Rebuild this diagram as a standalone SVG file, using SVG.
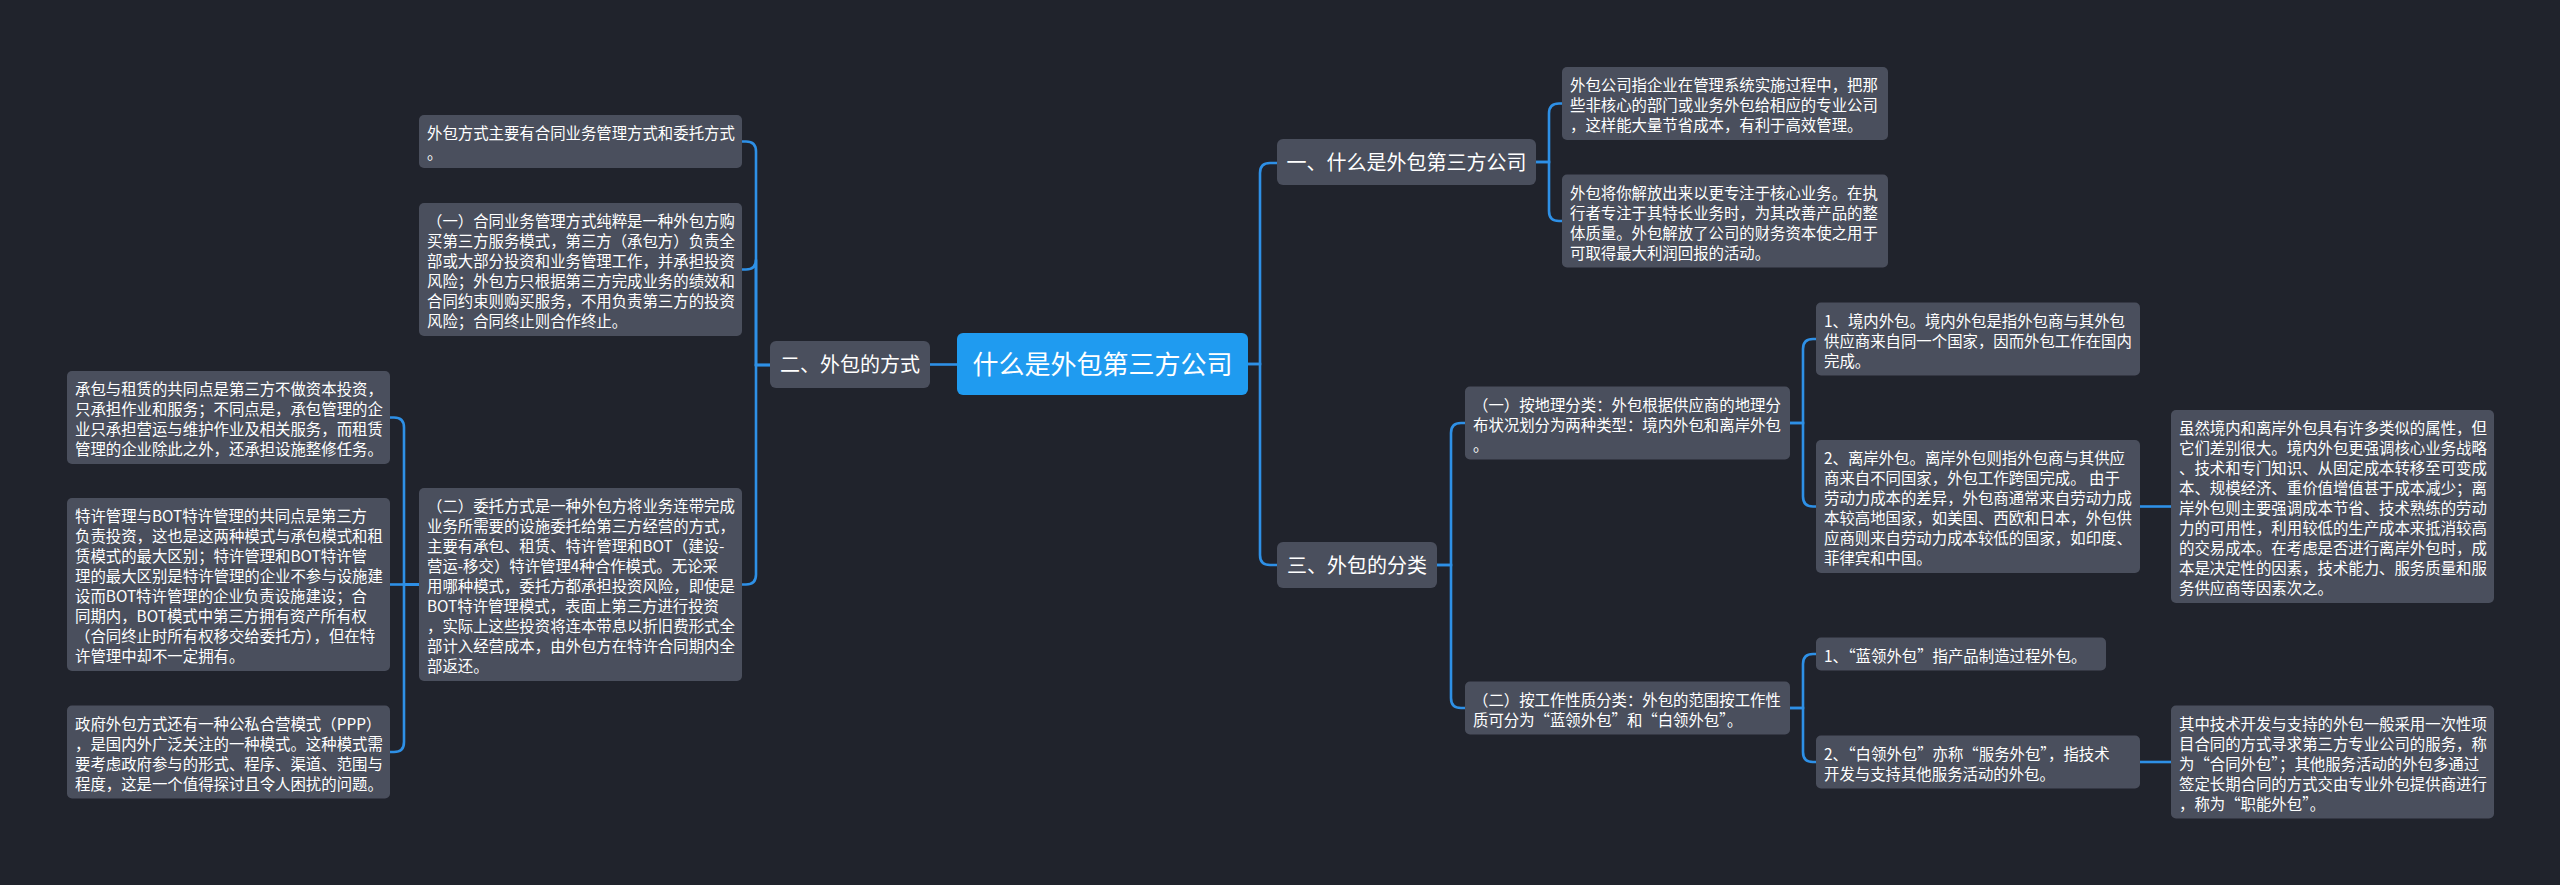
<svg xmlns="http://www.w3.org/2000/svg" width="2560" height="885" viewBox="0 0 2560 885">
<style>
.bg{fill:#20232c}
.n{fill:#4a4f5d}
.root{fill:#1f9bf0}
.t{font-family:"Noto Sans CJK SC","Noto Sans",sans-serif;font-size:15.4px;fill:#ffffff}
.t2{font-family:"Noto Sans CJK SC","Noto Sans",sans-serif;font-size:20px;fill:#ffffff;text-anchor:middle}
.t3{font-family:"Noto Sans CJK SC","Noto Sans",sans-serif;font-size:26px;fill:#ffffff;text-anchor:middle}
.c path{fill:none;stroke:#2e90e6;stroke-width:2.6}
</style>
<rect class="bg" x="0" y="0" width="2560" height="885"/>
<g class="c" id="connectors">
<path d="M1248,364 H1260 V173 Q1260,163 1270,163 H1277"/>
<path d="M1248,364 H1260 V555 Q1260,565 1270,565 H1277"/>
<path d="M1536,162 H1549 V113.5 Q1549,103.5 1559,103.5 H1562"/>
<path d="M1536,162 H1549 V211 Q1549,221 1559,221 H1562"/>
<path d="M1437,565 H1451 V433 Q1451,423 1461,423 H1465"/>
<path d="M1437,565 H1451 V698 Q1451,708 1461,708 H1465"/>
<path d="M1790,423 H1803 V349 Q1803,339 1813,339 H1816"/>
<path d="M1790,423 H1803 V496.5 Q1803,506.5 1813,506.5 H1816"/>
<path d="M2140,506.5 H2171"/>
<path d="M1790,708 H1803 V664 Q1803,654 1813,654 H1816"/>
<path d="M1790,708 H1803 V752 Q1803,762 1813,762 H1816"/>
<path d="M2140,762 H2171"/>
<path d="M957,364.5 H930"/>
<path d="M770,365 H756 V151.5 Q756,141.5 746,141.5 H742"/>
<path d="M770,365 H756 V259.5 Q756,269.5 746,269.5 H742"/>
<path d="M770,365 H756 V574.5 Q756,584.5 746,584.5 H742"/>
<path d="M419,584.5 H404 V427.5 Q404,417.5 394,417.5 H390"/>
<path d="M419,584.5 H390"/>
<path d="M419,584.5 H404 V742 Q404,752 394,752 H390"/>
</g>
<g id="root">
<rect class="root" x="957" y="333" width="291" height="62" rx="6"/>
<text class="t3" x="1102.5" y="374">什么是外包第三方公司</text>
</g>
<g id="n2">
<rect class="n" x="770" y="341" width="160" height="47" rx="6"/>
<text class="t2" x="850" y="372">二、外包的方式</text>
</g>
<g id="n1">
<rect class="n" x="1277" y="139" width="259" height="46" rx="6"/>
<text class="t2" x="1406.5" y="170">一、什么是外包第三方公司</text>
</g>
<g id="n3">
<rect class="n" x="1277" y="542" width="160" height="46" rx="6"/>
<text class="t2" x="1357" y="573">三、外包的分类</text>
</g>
<g id="box1">
<rect class="n" x="419" y="115" width="323" height="53" rx="5"/>
<text class="t"><tspan x="427" y="139">外包方式主要有合同业务管理方式和委托方式</tspan><tspan x="427" y="159">。</tspan></text>
</g>
<g id="box2">
<rect class="n" x="419" y="203" width="323" height="133" rx="5"/>
<text class="t"><tspan x="427" y="227">（一）合同业务管理方式纯粹是一种外包方购</tspan><tspan x="427" y="247">买第三方服务模式，第三方（承包方）负责全</tspan><tspan x="427" y="267">部或大部分投资和业务管理工作，并承担投资</tspan><tspan x="427" y="287">风险；外包方只根据第三方完成业务的绩效和</tspan><tspan x="427" y="307">合同约束则购买服务，不用负责第三方的投资</tspan><tspan x="427" y="327">风险；合同终止则合作终止。</tspan></text>
</g>
<g id="box3">
<rect class="n" x="419" y="488" width="323" height="193" rx="5"/>
<text class="t"><tspan x="427" y="512">（二）委托方式是一种外包方将业务连带完成</tspan><tspan x="427" y="532">业务所需要的设施委托给第三方经营的方式，</tspan><tspan x="427" y="552">主要有承包、租赁、特许管理和BOT（建设-</tspan><tspan x="427" y="572">营运-移交）特许管理4种合作模式。无论采</tspan><tspan x="427" y="592">用哪种模式，委托方都承担投资风险，即使是</tspan><tspan x="427" y="612">BOT特许管理模式，表面上第三方进行投资</tspan><tspan x="427" y="632">，实际上这些投资将连本带息以折旧费形式全</tspan><tspan x="427" y="652">部计入经营成本，由外包方在特许合同期内全</tspan><tspan x="427" y="672">部返还。</tspan></text>
</g>
<g id="boxA">
<rect class="n" x="67" y="371" width="323" height="93" rx="5"/>
<text class="t"><tspan x="75" y="395">承包与租赁的共同点是第三方不做资本投资，</tspan><tspan x="75" y="415">只承担作业和服务；不同点是，承包管理的企</tspan><tspan x="75" y="435">业只承担营运与维护作业及相关服务，而租赁</tspan><tspan x="75" y="455">管理的企业除此之外，还承担设施整修任务。</tspan></text>
</g>
<g id="boxB">
<rect class="n" x="67" y="498" width="323" height="173" rx="5"/>
<text class="t"><tspan x="75" y="522">特许管理与BOT特许管理的共同点是第三方</tspan><tspan x="75" y="542">负责投资，这也是这两种模式与承包模式和租</tspan><tspan x="75" y="562">赁模式的最大区别；特许管理和BOT特许管</tspan><tspan x="75" y="582">理的最大区别是特许管理的企业不参与设施建</tspan><tspan x="75" y="602">设而BOT特许管理的企业负责设施建设；合</tspan><tspan x="75" y="622">同期内，BOT模式中第三方拥有资产所有权</tspan><tspan x="75" y="642">（合同终止时所有权移交给委托方），但在特</tspan><tspan x="75" y="662">许管理中却不一定拥有。</tspan></text>
</g>
<g id="boxC">
<rect class="n" x="67" y="705.5" width="323" height="93" rx="5"/>
<text class="t"><tspan x="75" y="729.5">政府外包方式还有一种公私合营模式（PPP）</tspan><tspan x="75" y="749.5">，是国内外广泛关注的一种模式。这种模式需</tspan><tspan x="75" y="769.5">要考虑政府参与的形式、程序、渠道、范围与</tspan><tspan x="75" y="789.5">程度，这是一个值得探讨且令人困扰的问题。</tspan></text>
</g>
<g id="r1">
<rect class="n" x="1562" y="67" width="326" height="73" rx="5"/>
<text class="t"><tspan x="1570" y="91">外包公司指企业在管理系统实施过程中，把那</tspan><tspan x="1570" y="111">些非核心的部门或业务外包给相应的专业公司</tspan><tspan x="1570" y="131">，这样能大量节省成本，有利于高效管理。</tspan></text>
</g>
<g id="r2">
<rect class="n" x="1562" y="174.5" width="326" height="93" rx="5"/>
<text class="t"><tspan x="1570" y="198.5">外包将你解放出来以更专注于核心业务。在执</tspan><tspan x="1570" y="218.5">行者专注于其特长业务时，为其改善产品的整</tspan><tspan x="1570" y="238.5">体质量。外包解放了公司的财务资本使之用于</tspan><tspan x="1570" y="258.5">可取得最大利润回报的活动。</tspan></text>
</g>
<g id="g1">
<rect class="n" x="1465" y="386.5" width="325" height="73" rx="5"/>
<text class="t"><tspan x="1473" y="410.5">（一）按地理分类：外包根据供应商的地理分</tspan><tspan x="1473" y="430.5">布状况划分为两种类型：境内外包和离岸外包</tspan><tspan x="1473" y="450.5">。</tspan></text>
</g>
<g id="d1">
<rect class="n" x="1816" y="302.5" width="324" height="73" rx="5"/>
<text class="t"><tspan x="1824" y="326.5">1、境内外包。境内外包是指外包商与其外包</tspan><tspan x="1824" y="346.5">供应商来自同一个国家，因而外包工作在国内</tspan><tspan x="1824" y="366.5">完成。</tspan></text>
</g>
<g id="d2">
<rect class="n" x="1816" y="440" width="324" height="133" rx="5"/>
<text class="t"><tspan x="1824" y="464">2、离岸外包。离岸外包则指外包商与其供应</tspan><tspan x="1824" y="484">商来自不同国家，外包工作跨国完成。 由于</tspan><tspan x="1824" y="504">劳动力成本的差异，外包商通常来自劳动力成</tspan><tspan x="1824" y="524">本较高地国家，如美国、西欧和日本，外包供</tspan><tspan x="1824" y="544">应商则来自劳动力成本较低的国家，如印度、</tspan><tspan x="1824" y="564">菲律宾和中国。</tspan></text>
</g>
<g id="e">
<rect class="n" x="2171" y="410" width="323" height="193" rx="5"/>
<text class="t"><tspan x="2179" y="434">虽然境内和离岸外包具有许多类似的属性，但</tspan><tspan x="2179" y="454">它们差别很大。境内外包更强调核心业务战略</tspan><tspan x="2179" y="474">、技术和专门知识、从固定成本转移至可变成</tspan><tspan x="2179" y="494">本、规模经济、重价值增值甚于成本减少；离</tspan><tspan x="2179" y="514">岸外包则主要强调成本节省、技术熟练的劳动</tspan><tspan x="2179" y="534">力的可用性，利用较低的生产成本来抵消较高</tspan><tspan x="2179" y="554">的交易成本。在考虑是否进行离岸外包时，成</tspan><tspan x="2179" y="574">本是决定性的因素，技术能力、服务质量和服</tspan><tspan x="2179" y="594">务供应商等因素次之。</tspan></text>
</g>
<g id="g2">
<rect class="n" x="1465" y="681.5" width="325" height="53" rx="5"/>
<text class="t"><tspan x="1473" y="705.5">（二）按工作性质分类：外包的范围按工作性</tspan><tspan x="1473" y="725.5">质可分为“蓝领外包”和“白领外包”。</tspan></text>
</g>
<g id="w1">
<rect class="n" x="1816" y="637.5" width="290" height="33" rx="5"/>
<text class="t"><tspan x="1824" y="661.5">1、“蓝领外包”指产品制造过程外包。</tspan></text>
</g>
<g id="w2">
<rect class="n" x="1816" y="735.5" width="324" height="53" rx="5"/>
<text class="t"><tspan x="1824" y="759.5">2、“白领外包”亦称“服务外包”，指技术</tspan><tspan x="1824" y="779.5">开发与支持其他服务活动的外包。</tspan></text>
</g>
<g id="f">
<rect class="n" x="2171" y="705.5" width="323" height="113" rx="5"/>
<text class="t"><tspan x="2179" y="729.5">其中技术开发与支持的外包一般采用一次性项</tspan><tspan x="2179" y="749.5">目合同的方式寻求第三方专业公司的服务，称</tspan><tspan x="2179" y="769.5">为“合同外包”；其他服务活动的外包多通过</tspan><tspan x="2179" y="789.5">签定长期合同的方式交由专业外包提供商进行</tspan><tspan x="2179" y="809.5">，称为“职能外包”。</tspan></text>
</g>
</svg>
